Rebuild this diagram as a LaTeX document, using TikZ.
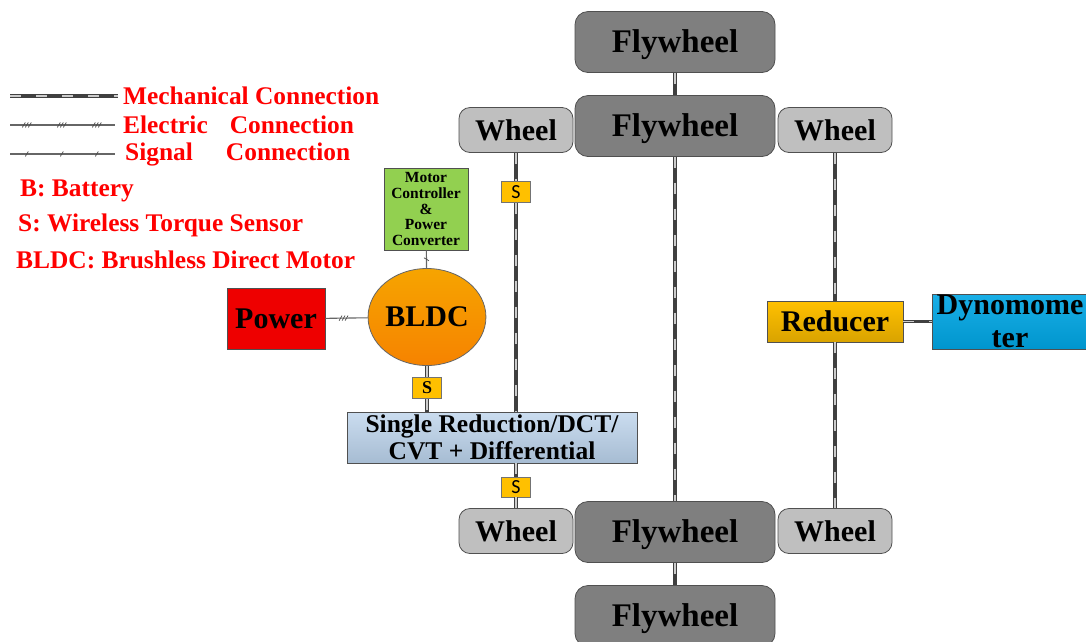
\documentclass[tikz,border=0pt]{standalone}
\usepackage{fontspec}
\setmainfont{Liberation Serif}
\newfontfamily\sensorfont{Carlito}
\usetikzlibrary{positioning,shapes.geometric,decorations.markings}

\definecolor{flygray}{HTML}{7F7F7F}
\definecolor{wheelgray}{HTML}{BFBFBF}
\definecolor{edgegray}{HTML}{505050}
\definecolor{sensorgold}{HTML}{FFC000}
\definecolor{ctrlgreen}{HTML}{92D050}
\definecolor{motororange}{HTML}{F59A00}
\definecolor{powerred}{HTML}{EE0000}
\definecolor{gearblue}{HTML}{B9D1EA}
\definecolor{dynoblue}{HTML}{00A6E4}

\tikzset{
  box/.style={draw=edgegray, line width=0.8pt, inner sep=0pt, align=center},
  fly/.style={box, fill=flygray, rounded corners=13pt, minimum width=200pt,
    minimum height=61pt, text depth=2pt, font=\fontsize{33}{36}\selectfont\bfseries},
  wheel/.style={box, fill=wheelgray, rounded corners=11pt, minimum width=114pt,
    minimum height=45pt, font=\fontsize{30}{33}\selectfont\bfseries},
  sensor/.style={box, draw=black!55, fill=sensorgold, minimum width=29pt,
    minimum height=21pt, font=\sensorfont\fontsize{20}{20}\selectfont},
  legend/.style={anchor=west, inner sep=0pt, text=red,
    font=\fontsize{25.4}{28}\selectfont\bfseries},
  wire/.style={draw=black!60, line width=1.1pt},
  mech/.style={draw=black!75, line width=3.5pt,
    postaction={draw=white!80!black, line width=1.1pt, dash pattern=on 11pt off 15pt}},
  elec/.style={wire, postaction={decorate, decoration={markings,
    mark=between positions #1 and 1 step 35pt with {
      \foreach \k in {-3,0,3}
        \draw[black!70, line width=0.7pt] (\k pt-1.5pt,-2.5pt) -- (\k pt+1.5pt,2.5pt);}}}},
  elec/.default=0.43,
  signal/.style={wire, postaction={decorate, decoration={markings,
    mark=between positions #1 and 1 step 35pt with {
      \draw[black!70, line width=0.7pt] (-1.5pt,-2.5pt) -- (1.5pt,2.5pt);}}}},
  signal/.default=0.5
}

\begin{document}
\begin{tikzpicture}[x=1pt, y=-1pt]
    \useasboundingbox (0,0) rectangle (1086,641);

    % 圖例
    \coordinate (mechA) at (10,96);
    \coordinate (mechB) at (118,96);
    \coordinate (elecA) at (10,125);
    \coordinate (elecB) at (115,125);
    \coordinate (sigA) at (10,154);
    \coordinate (sigB) at (115,154);
    \draw[mech] (mechA) -- (mechB);
    \draw[elec=0.16] (elecA) -- (elecB);
    \draw[signal=0.16] (sigA) -- (sigB);
    \node[legend] (mechtxt) at (123,96) {Mechanical Connection};
    \node[legend] (electxt) at (123,125) {Electric\hspace{22pt}Connection};
    \node[legend] (sigtxt) at (125,154) {Signal\hspace{33pt}Connection};
    \node[legend] (battxt) at (20,191) {B: Battery};
    \node[legend] (senstxt) at (18,225) {S: Wireless Torque Sensor};
    \node[legend] (bldctxt) at (16,260) {BLDC: Brushless Direct Motor};

    % 飛輪與車輪
    \node[fly] (fw1) at (675,42) {Flywheel};
    \node[fly] (fw2) at (675,126) {Flywheel};
    \node[fly] (fw3) at (675,532) {Flywheel};
    \node[fly] (fw4) at (675,616) {Flywheel};
    \node[wheel] (wl1) at (516,130) {Wheel};
    \node[wheel] (wr1) at (835,130) {Wheel};
    \node[wheel] (wl2) at (516,531) {Wheel};
    \node[wheel] (wr2) at (835,531) {Wheel};

    % 動力部分
    \node[box, fill=ctrlgreen, minimum width=84pt, minimum height=82pt,
      font=\fontsize{15.5}{15.75}\selectfont\bfseries] (ctrl) at (426,209)
      {Motor\\Controller\\\&\\Power\\Converter};
    \node[box, ellipse, draw=black!60, top color=motororange!90!yellow,
      bottom color=motororange!85!red, minimum width=110pt, minimum height=97pt,
      font=\fontsize{30}{33}\selectfont\bfseries] (bldc) at (427,317) {BLDC};
    \node[box, fill=powerred, minimum width=98pt, minimum height=61pt,
      font=\fontsize{30}{33}\selectfont\bfseries] (power) at (276,319) {Power};
    \node[sensor, font=\fontsize{18}{18}\selectfont\bfseries] (s3) at (427,388) {S};
    \node[box, top color=gearblue!75!white, bottom color=gearblue!90!black,
      minimum width=290pt, minimum height=51pt,
      font=\fontsize{25.5}{27}\selectfont\bfseries] (gear) at (492,437.5)
      {Single Reduction/DCT/\\CVT + Differential};
    \node[sensor] (s1) at (516,192) {S};
    \node[sensor, minimum height=20pt] (s2) at (516,487) {S};

    % 減速器與測功機
    \node[box, top color=sensorgold, bottom color=sensorgold!85!black,
      minimum width=136pt, minimum height=41pt,
      font=\fontsize{30}{33}\selectfont\bfseries] (red) at (835,321.5) {Reducer};
    \node[box, top color=dynoblue!90!white, bottom color=dynoblue!90!black,
      minimum width=156pt, minimum height=55pt,
      font=\fontsize{30}{33}\selectfont\bfseries] (dyn) at (1010,321.5) {Dynomome\\ter};

    % 連線
    \draw[mech] (fw1) -- (fw2);
    \draw[mech] (fw2) -- (fw3);
    \draw[mech] (fw3) -- (fw4);
    \draw[mech] (wl1) -- (s1);
    \draw[mech] (s1) -- (s1 |- gear.north);
    \draw[mech] (gear.south -| s2) -- (s2);
    \draw[mech] (s2) -- (wl2);
    \draw[mech] (wr1) -- (red);
    \draw[mech] (red) -- (wr2);
    \draw[mech] (red) -- (dyn);
    \draw[mech] (bldc) -- (s3);
    \draw[mech] (s3) -- (s3 |- gear.north);
    \draw[elec] (power) -- (bldc);
    \draw[signal] (ctrl) -- (bldc);
\end{tikzpicture}
\end{document}
